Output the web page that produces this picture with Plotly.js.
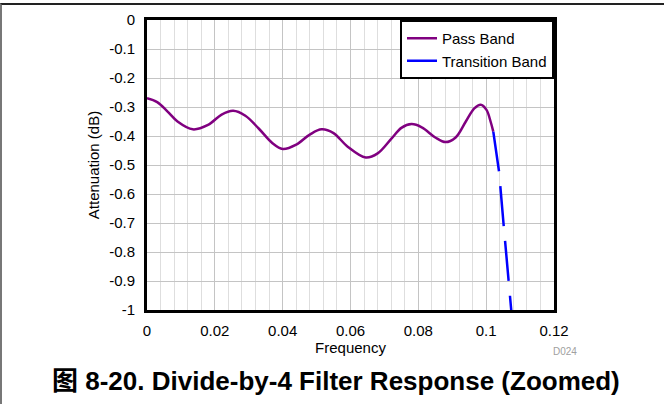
<!DOCTYPE html>
<html>
<head>
<meta charset="utf-8">
<script src="https://cdn.plot.ly/plotly-3.0.1.min.js"></script>
<style>
html,body{margin:0;padding:0;background:#fff;}
#wrap{position:relative;width:664px;height:404px;}
#chart{width:664px;height:404px;}
#frame{position:absolute;left:0;top:3px;width:662px;height:401px;border-top:2px solid #222;border-left:2px solid #777;pointer-events:none;}
</style>
</head>
<body>
<div id="wrap"><div id="chart"></div><div id="frame"></div></div>
<script>
// Pass band (frequency, attenuation dB)
const passFreq = [0, 0.003, 0.006, 0.009, 0.0135, 0.018, 0.022, 0.0254, 0.029, 0.033, 0.037, 0.040, 0.044, 0.048, 0.0515, 0.055, 0.059, 0.0645, 0.068, 0.072, 0.075, 0.078, 0.081, 0.085, 0.088, 0.091, 0.094, 0.0965, 0.0984, 0.1001, 0.1013, 0.1021];
const passAtt  = [-0.270, -0.283, -0.315, -0.350, -0.377, -0.362, -0.326, -0.313, -0.330, -0.375, -0.425, -0.445, -0.430, -0.395, -0.377, -0.390, -0.435, -0.474, -0.460, -0.410, -0.372, -0.359, -0.370, -0.405, -0.421, -0.405, -0.350, -0.305, -0.292, -0.310, -0.350, -0.385];
// Transition band
const transFreq = [0.1021, 0.1030, 0.1038, 0.1052, 0.1066, 0.1080];
const transAtt  = [-0.385, -0.452, -0.523, -0.713, -0.901, -1.08];

const xTickVals = [0, 0.02, 0.04, 0.06, 0.08, 0.1, 0.12];
const xTickText = ["0", "0.02", "0.04", "0.06", "0.08", "0.1", "0.12"];
const yTickVals = [0, -0.1, -0.2, -0.3, -0.4, -0.5, -0.6, -0.7, -0.8, -0.9, -1];
const yTickText = ["0", "-0.1", "-0.2", "-0.3", "-0.4", "-0.5", "-0.6", "-0.7", "-0.8", "-0.9", "-1"];

const FONT = "Liberation Sans, Arial, sans-serif";

const data = [
  {x: passFreq, y: passAtt, name: "Pass Band", mode: "lines",
   line: {color: "#800080", width: 2.5, shape: "spline", smoothing: 1}},
  {x: transFreq, y: transAtt, name: "Transition Band", mode: "lines",
   line: {color: "#0000ff", width: 2.5, dash: "40px,15px"}}
];

const layout = {
  width: 664, height: 404,
  margin: {l: 147, r: 110, t: 20, b: 94},
  paper_bgcolor: "#fff", plot_bgcolor: "#fff",
  font: {family: FONT, size: 15, color: "#000"},
  showlegend: true,
  legend: {x: 1, xanchor: "right", y: 1, yanchor: "top",
    bgcolor: "#fff", bordercolor: "#000", borderwidth: 2,
    font: {family: FONT, size: 15, color: "#000"},
    itemwidth: 30, tracegroupgap: 0},
  xaxis: {range: [0, 0.12], tickvals: xTickVals, ticktext: xTickText,
    showgrid: true, gridcolor: "#c4c4c4", gridwidth: 1,
    minor: {dtick: 0.004, showgrid: true, gridcolor: "#dedede", gridwidth: 1},
    showline: true, linecolor: "#000", linewidth: 3, mirror: true,
    ticks: "outside", ticklen: 5, tickcolor: "rgba(0,0,0,0)",
    tickfont: {family: FONT, size: 15, color: "#000"},
    zeroline: false,
    title: {text: "Frequency", font: {family: FONT, size: 15, color: "#000"}, standoff: 0}},
  yaxis: {range: [-1, 0], tickvals: yTickVals, ticktext: yTickText,
    showgrid: true, gridcolor: "#c4c4c4", gridwidth: 1,
    showline: true, linecolor: "#000", linewidth: 3, mirror: true,
    ticks: "outside", ticklen: 6, tickcolor: "rgba(0,0,0,0)",
    tickfont: {family: FONT, size: 15, color: "#000"},
    zeroline: false,
    title: {text: "Attenuation (dB)", font: {family: FONT, size: 15, color: "#000"}, standoff: 6}},
  annotations: [
    {text: "D024", xref: "paper", yref: "paper", x: (565 - 147) / 407, y: (310 - 351) / 290, xanchor: "center", yanchor: "middle",
     showarrow: false, font: {family: FONT, size: 10, color: "#a0a0a0"}},
    {text: "<b>图 8-20. Divide-by-4 Filter Response (Zoomed)</b>", xref: "paper", yref: "paper",
     x: (336 - 147) / 407, y: (310 - 381) / 290, xanchor: "center", yanchor: "middle",
     showarrow: false, font: {family: "Liberation Sans, Noto Sans CJK SC, sans-serif", size: 26, color: "#000"}}
  ]
};

Plotly.newPlot("chart", data, layout, {displayModeBar: false, staticPlot: true});
</script>
</body>
</html>
